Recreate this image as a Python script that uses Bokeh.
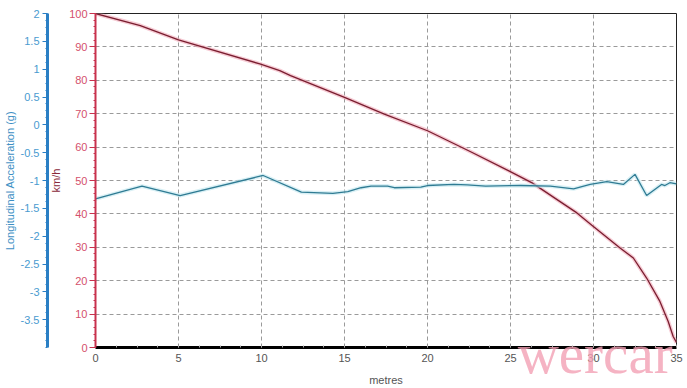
from bokeh.plotting import figure
from bokeh.models import (Range1d, LinearAxis, FixedTicker, CustomJSTickFormatter)
from bokeh.embed import file_html
from bokeh.resources import INLINE

# --- data -------------------------------------------------------------
speed_x = [0, 2.7, 5.0, 9.9, 11.1, 11.75, 15.0, 17.4, 20.0, 22.6, 24.9,
           26.3, 29.0, 29.9, 31.6, 32.4, 33.2, 34.0, 34.5, 34.8, 35.0]
speed_kmh = [100, 96.4, 92.1, 84.9, 82.9, 81.4, 74.9, 69.9, 64.9, 58.6,
             52.9, 49.3, 40.3, 36.6, 29.8, 26.8, 20.8, 13.8, 7.8, 3.3, 1.5]

acc_x = [0, 2.8, 5.1, 10.1, 12.4, 14.3, 15.2, 16.0, 16.6, 17.6, 18.0, 19.6,
         20.0, 21.6, 22.4, 23.5, 25.6, 27.4, 28.8, 29.8, 30.8, 31.8, 32.5,
         33.2, 34.1, 34.3, 34.6, 35.0]
acc_g = [-1.33, -1.10, -1.27, -0.91, -1.21, -1.23, -1.20, -1.13, -1.10, -1.10,
         -1.13, -1.12, -1.09, -1.07, -1.08, -1.10, -1.09, -1.10, -1.15, -1.07,
         -1.02, -1.07, -0.89, -1.27, -1.07, -1.09, -1.04, -1.06]

x_ticks = [0, 5, 10, 15, 20, 25, 30, 35]
kmh_ticks = [0, 10, 20, 30, 40, 50, 60, 70, 80, 90, 100]
g_ticks = [2, 1.5, 1, 0.5, 0, -0.5, -1, -1.5, -2, -2.5, -3, -3.5]

FONT = "Liberation Sans"
RED_LBL = "#d4506c"
BLUE_LBL = "#4a9bd0"
WATERMARK_AT = 30.1   # horizontal anchor of the watermark text (style only)

p = figure(width=687, height=388, output_backend="svg", toolbar_location=None,
           x_range=Range1d(0, 35), y_range=Range1d(0, 100),
           min_border_top=13, min_border_right=11, min_border_bottom=0,
           min_border_left=0, background_fill_color="white",
           border_fill_color="white")
p.outline_line_color = "#222222"
p.outline_line_width = 1

p.extra_y_ranges = {"g": Range1d(-4, 2)}

# grid
for g in (p.xgrid, p.ygrid):
    g.grid_line_color = "#9a9a9a"
    g.grid_line_dash = "4 3"
    g.grid_line_width = 1
p.xgrid.ticker = FixedTicker(ticks=x_ticks)
p.ygrid.ticker = FixedTicker(ticks=kmh_ticks)

# x axis: ticks and tick labels
xa = p.xaxis[0]
xa.ticker = FixedTicker(ticks=x_ticks, minor_ticks=[i * 1.25 for i in range(29)])
xa.axis_line_color = "black"
xa.axis_line_width = 3
xa.major_tick_line_color = "#888888"
xa.major_tick_in = 3
xa.major_tick_out = 0
xa.minor_tick_line_color = "#aaaaaa"
xa.minor_tick_in = 2
xa.minor_tick_out = 0
xa.major_label_text_font = FONT
xa.major_label_text_font_size = "11px"
xa.major_label_text_color = "#555555"
xa.major_label_standoff = 6

# outer bottom axis: watermark text + "metres" title
ma = LinearAxis(ticker=FixedTicker(ticks=[WATERMARK_AT]),
                formatter=CustomJSTickFormatter(code='return "wercar";'))
ma.axis_line_color = None
ma.major_tick_line_color = None
ma.minor_tick_line_color = None
ma.major_tick_out = 0
ma.major_tick_in = 0
ma.major_label_text_font = "Liberation Serif"
ma.major_label_text_font_size = "57px"
ma.major_label_text_color = "#f2a0b4"
ma.major_label_text_alpha = 0.8
ma.major_label_standoff = -43
ma.axis_label = "metres"
ma.axis_label_text_font = FONT
ma.axis_label_text_font_style = "normal"
ma.axis_label_text_font_size = "11px"
ma.axis_label_text_color = "#555555"
ma.axis_label_standoff = -14
p.add_layout(ma, "below")

# km/h axis (inner left)
ya = p.yaxis[0]
ya.ticker = FixedTicker(ticks=kmh_ticks, minor_ticks=[i * 2 for i in range(51)])
ya.axis_line_color = "#c8324e"
ya.axis_line_width = 2
ya.major_tick_line_color = "#c8324e"
ya.major_tick_out = 6
ya.major_tick_in = 0
ya.minor_tick_line_color = "#c8324e"
ya.minor_tick_out = 2
ya.minor_tick_in = 0
ya.major_label_text_font = FONT
ya.major_label_text_font_size = "11px"
ya.major_label_text_color = RED_LBL
ya.major_label_standoff = 2
ya.axis_label = "km/h"
ya.axis_label_text_font = FONT
ya.axis_label_text_font_style = "normal"
ya.axis_label_text_font_size = "11px"
ya.axis_label_text_color = "#8a2a3a"
ya.axis_label_standoff = 4

# g axis (outer left)
ga = LinearAxis(y_range_name="g",
                ticker=FixedTicker(ticks=g_ticks, minor_ticks=[-4 + i * 0.125 for i in range(49)]),
                formatter=CustomJSTickFormatter(code="return tick.toString();"))
ga.axis_line_color = "#2a7fc4"
ga.axis_line_width = 3
ga.major_tick_line_color = "#2a7fc4"
ga.major_tick_out = 5
ga.major_tick_in = 0
ga.minor_tick_line_color = "#2a7fc4"
ga.minor_tick_out = 2
ga.minor_tick_in = 0
ga.major_label_text_font = FONT
ga.major_label_text_font_size = "11px"
ga.major_label_text_color = BLUE_LBL
ga.major_label_standoff = 3
ga.axis_label = "Longitudinal Acceleration (g)"
ga.axis_label_text_font = FONT
ga.axis_label_text_font_style = "normal"
ga.axis_label_text_font_size = "11px"
ga.axis_label_text_color = "#3d8fc4"
ga.axis_label_standoff = 2
p.add_layout(ga, "left")

# lines
p.line(speed_x, speed_kmh, line_color="#f0a8b8", line_width=4, line_alpha=0.6)
p.line(speed_x, speed_kmh, line_color="#7a1e30", line_width=1.3)
p.line(acc_x, acc_g, y_range_name="g", line_color="#bfe6ee", line_width=4, line_alpha=0.6)
p.line(acc_x, acc_g, y_range_name="g", line_color="#2f7b93", line_width=1.3)

open("out.html", "w").write(file_html(p, INLINE))
